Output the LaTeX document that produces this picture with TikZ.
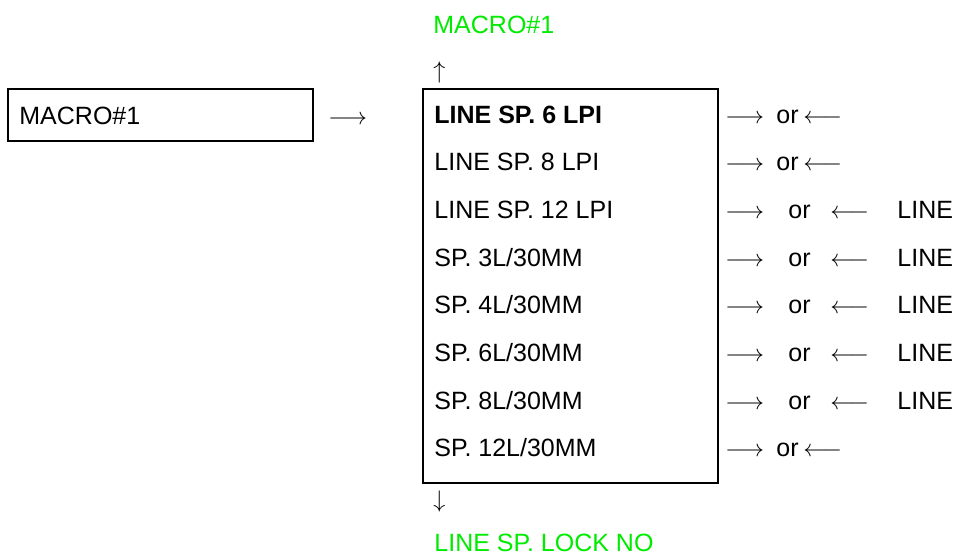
\documentclass[tikz,border=0pt]{standalone}
\usepackage{fontspec}
\setmainfont{Liberation Sans}
\usepackage{tikz}
\usetikzlibrary{positioning}
\definecolor{menugreen}{RGB}{0,235,0}

\begin{document}
\begin{tikzpicture}[
    x=0.5pt, y=-0.5pt,
    frame/.style={draw, line width=0.65pt, inner sep=0pt},
    txt/.style={anchor=base west, inner sep=0pt, font=\fontsize{12.5}{15}\selectfont},
    hint/.style={txt, text=menugreen}
]
    \useasboundingbox (0,0) rectangle (953,557);
    % selector box and the menu box
    \node[frame, minimum width=152.5pt, minimum height=26pt] (sel) at (160.5,115) {};
    \node[frame, minimum width=147.5pt, minimum height=197pt] (menu) at (570.5,286) {};
    \node[txt] (selname) at (19,124) {MACRO\#1};
    \node[txt] (go) at (328,124) {$\longrightarrow$};
    % above and below the menu
    \node[hint] (prev) at (433,33) {MACRO\#1};
    \node[txt] (up) at (433,78) {$\uparrow$};
    \node[txt] (down) at (433,507) {$\downarrow$};
    \node[hint] (next) at (434,551) {LINE SP. LOCK NO};
    % menu items
    \node[txt, font=\fontsize{12.5}{15}\selectfont\bfseries] (item1) at (434,123) {LINE SP. 6 LPI};
    \node[txt] (item2) at (434,170.7) {LINE SP. 8 LPI};
    \node[txt] (item3) at (434,218.4) {LINE SP. 12 LPI};
    \node[txt] (item4) at (434,266.1) {SP. 3L/30MM};
    \node[txt] (item5) at (434,313.8) {SP. 4L/30MM};
    \node[txt] (item6) at (434,361.5) {SP. 6L/30MM};
    \node[txt] (item7) at (434,409.2) {SP. 8L/30MM};
    \node[txt] (item8) at (434,456.9) {SP. 12L/30MM};
    % keys beside each item
    \foreach \k/\y in {1/123, 2/170.7, 8/456.9} {
        \node[txt] (fwd\k) at (725,\y) {$\longrightarrow$};
        \node[txt] (or\k) at (776,\y) {or};
        \node[txt] (back\k) at (803,\y) {$\longleftarrow$};
    }
    \foreach \k/\y in {3/218.4, 4/266.1, 5/313.8, 6/361.5, 7/409.2} {
        \node[txt] (fwd\k) at (725,\y) {$\longrightarrow$};
        \node[txt] (or\k) at (788,\y) {or};
        \node[txt] (back\k) at (830,\y) {$\longleftarrow$};
        \node[txt] (line\k) at (897,\y) {LINE};
    }
\end{tikzpicture}
\end{document}
